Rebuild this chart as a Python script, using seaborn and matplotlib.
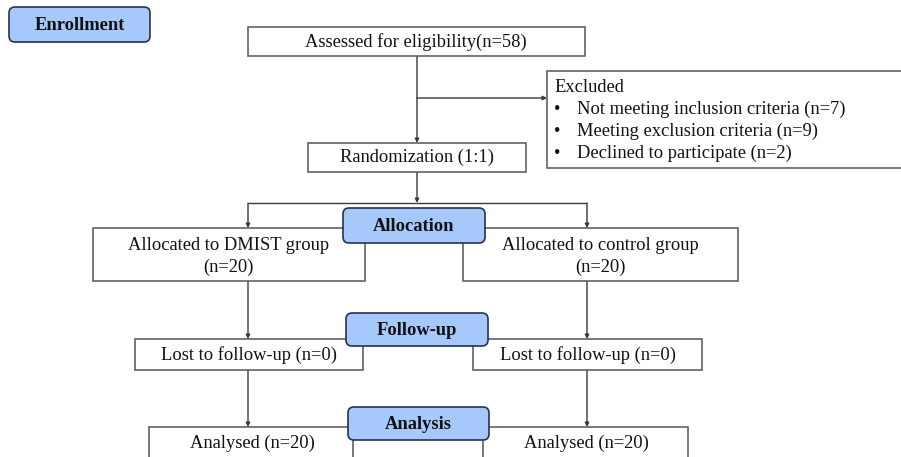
import matplotlib
matplotlib.use("Agg")
import matplotlib.pyplot as plt
import seaborn as sns
from matplotlib.patches import FancyBboxPatch, Rectangle

sns.set_style("white")
plt.rcParams['font.family'] = ['Liberation Serif', 'DejaVu Serif']

# ---- data ----
n_assessed = 58
excluded_reasons = ["Not meeting inclusion criteria", "Meeting exclusion criteria", "Declined to participate"]
excluded_counts = [7, 9, 2]
group_names = ["DMIST group", "control group"]
allocated_counts = [20, 20]
lost_counts = [0, 0]
analysed_counts = [20, 20]
stage_labels = ["Enrollment", "Allocation", "Follow-up", "Analysis"]
randomization_label = "Randomization (1:1)"

W, H = 901, 457
fig = plt.figure(figsize=(W / 100, H / 100), dpi=100)
ax = fig.add_axes([0, 0, 1, 1])
ax.set_xlim(0, W)
ax.set_ylim(H, 0)
ax.axis("off")

LINE = "#3a3a3a"
BLUE = "#a6c8fa"
BLUE_EDGE = "#26344d"
FS = 13.3


def wbox(x0, y0, x1, y1):
    ax.add_patch(Rectangle((x0, y0), x1 - x0, y1 - y0, facecolor="white",
                           edgecolor="#555555", linewidth=1.1, zorder=2))


def bbox(x0, y0, x1, y1, label):
    ax.add_patch(FancyBboxPatch((x0, y0), x1 - x0, y1 - y0,
                                boxstyle="round,pad=0,rounding_size=6",
                                facecolor=BLUE, edgecolor=BLUE_EDGE,
                                linewidth=1.2, zorder=4))
    ax.text((x0 + x1) / 2, (y0 + y1) / 2 + 1, label, ha="center", va="center",
            fontsize=FS, fontweight="bold", color="#111111", zorder=5)


def line(xs, ys):
    ax.plot(xs, ys, color=LINE, linewidth=1.0, zorder=1, solid_capstyle="butt")


def arrow(x0, y0, x1, y1):
    ax.annotate("", xy=(x1, y1), xytext=(x0, y0),
                arrowprops=dict(arrowstyle="-|>", color=LINE, lw=1.0,
                                mutation_scale=6, shrinkA=0, shrinkB=0),
                zorder=1)


def txt(x, y, s, **kw):
    ax.text(x, y, s, ha="center", va="center", fontsize=FS, color="#111111",
            zorder=5, **kw)


# Enrollment
bbox(9, 7, 150, 42, stage_labels[0])

# Assessed
wbox(248, 27, 585, 56)
txt(416, 42, f"Assessed for eligibility(n={n_assessed})")

# connections top
arrow(417, 56, 417, 143)
arrow(417, 98, 547, 98)

# Excluded
wbox(547, 71, 910, 168)
ax.text(554, 87, "Excluded", ha="left", va="center", fontsize=FS, color="#111111", zorder=5)
for i, (r, c) in enumerate(zip(excluded_reasons, excluded_counts)):
    yy = 109 + i * 22
    ax.text(557, yy + 1, "\u2022", ha="center", va="center", fontsize=FS, color="#111111", zorder=5)
    ax.text(577, yy, f"{r} (n={c})", ha="left", va="center", fontsize=FS,
            color="#111111", zorder=5)

# Randomization
wbox(308, 143, 526, 172)
txt(417, 157, randomization_label)
arrow(417, 172, 417, 203)
line([248, 587], [203, 203])

col_x = [248, 587]

# Allocated boxes
alloc_boxes = [(93, 365), (463, 738)]
for (x0, x1), g, n, cx in zip(alloc_boxes, group_names, allocated_counts, col_x):
    wbox(x0, 228, x1, 281)
    arrow(cx, 203, cx, 228)
    txt((x0 + x1) / 2, 245, f"Allocated to {g}")
    txt((x0 + x1) / 2, 267, f"(n={n})")
bbox(343, 208, 485, 243, stage_labels[1])

# Lost to follow-up
lost_boxes = [(135, 363), (473, 702)]
for (x0, x1), n, cx in zip(lost_boxes, lost_counts, col_x):
    wbox(x0, 339, x1, 370)
    arrow(cx, 281, cx, 339)
    txt((x0 + x1) / 2, 355, f"Lost to follow-up (n={n})")
bbox(346, 313, 488, 346, stage_labels[2])

# Analysed
an_boxes = [(149, 353), (483, 688)]
for (x0, x1), n, cx in zip(an_boxes, analysed_counts, col_x):
    wbox(x0, 427, x1, 470)
    arrow(cx, 370, cx, 427)
    txt((x0 + x1) / 2 + 1, 443, f"Analysed (n={n})")
bbox(348, 407, 489, 440, stage_labels[3])

fig.savefig("out.png", dpi=100)
